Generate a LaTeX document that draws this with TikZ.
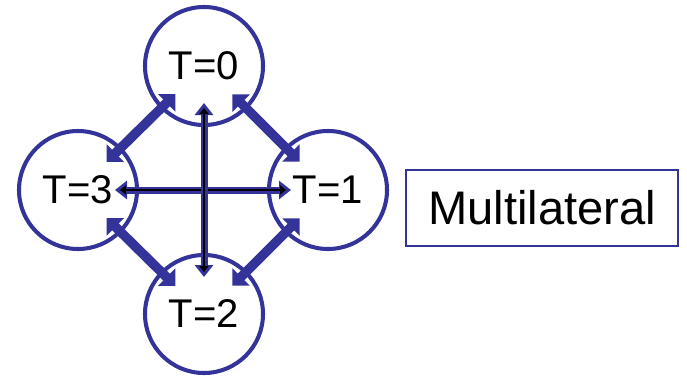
\documentclass[tikz,border=0pt]{standalone}
\usepackage{fontspec}
\setmainfont{Liberation Sans}
\usetikzlibrary{arrows.meta, positioning}
\definecolor{ringBlue}{RGB}{51, 51, 153}

\tikzset{
  state/.style={circle, draw=ringBlue, line width=1.15pt, fill=white,
                minimum size=11.8mm, inner sep=0pt,
                font=\fontsize{11.4}{13}\selectfont},
  fatlink/.style={ringBlue, line width=0.95mm, shorten <=4mm, shorten >=4mm,
                  {Triangle[width=2.4mm, length=1.25mm]}-{Triangle[width=2.4mm, length=1.25mm]}},
  crosslink/.style={ringBlue, line width=0.7mm, shorten <=3.7mm, shorten >=3.7mm,
                    {Triangle[width=1.8mm, length=1.2mm]}-{Triangle[width=1.8mm, length=1.2mm]}},
  coreline/.style={black, line width=0.6pt, shorten <=4.2mm, shorten >=4.2mm,
                   {Triangle[width=0.9mm, length=0.6mm]}-{Triangle[width=0.9mm, length=0.6mm]}},
  tagbox/.style={draw=ringBlue, line width=0.6pt, fill=white,
                 minimum width=27.2mm, minimum height=7.6mm,
                 font=\fontsize{13.4}{16}\selectfont}
}

\begin{document}
\begin{tikzpicture}[x=0.1mm, y=-0.1mm]
  \useasboundingbox (0,0) rectangle (687,375);

  % Time steps
  \node[state] (t0) at (204, 66)  {T=0};
  \node[state] (t1) at (328, 190) {T=1};
  \node[state] (t2) at (204, 314) {T=2};
  \node[state] (t3) at (78, 190)  {T=3};

  % Neighbour exchanges
  \draw[fatlink] (t0.center) -- (t3.center);
  \draw[fatlink] (t0.center) -- (t1.center);
  \draw[fatlink] (t1.center) -- (t2.center);
  \draw[fatlink] (t3.center) -- (t2.center);

  % Cross exchanges
  \draw[crosslink] (t3.center) -- (t1.center);
  \draw[coreline]  (t3.center) -- (t1.center);
  \draw[crosslink] (t0.center) -- (t2.center);
  \draw[coreline]  (t0.center) -- (t2.center);

  % Caption box
  \node[tagbox] (tag) at (542, 208) {Multilateral};
\end{tikzpicture}
\end{document}
